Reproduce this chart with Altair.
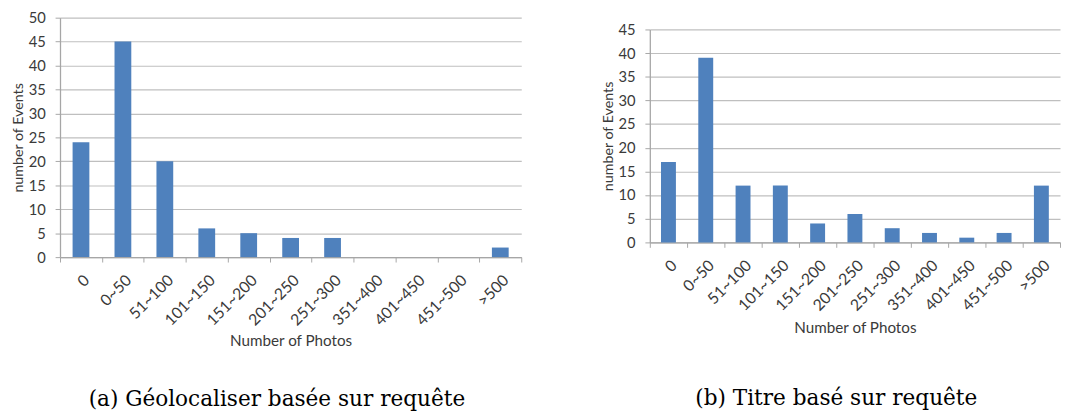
import altair as alt
import pandas as pd

categories = ["0", "0~50", "51~100", "101~150", "151~200", "201~250",
              "251~300", "351~400", "401~450", "451~500", ">500"]
geo_counts = [24, 45, 20, 6, 5, 4, 4, 0, 0, 0, 2]
title_counts = [17, 39, 12, 12, 4, 6, 3, 2, 1, 2, 12]
y_ticks_a = [0, 5, 10, 15, 20, 25, 30, 35, 40, 45, 50]
y_ticks_b = [0, 5, 10, 15, 20, 25, 30, 35, 40, 45]
caption_a = "(a) Géolocaliser basée sur requête"
caption_b = "(b) Titre basé sur requête"
xtitle_a = "Number of  Photos"
xtitle_b = "Number of Photos"
ytitle = "number of Events"

FONT = "Lato"
AXIS_COLOR = "#A6A6A6"
GRID_COLOR = "#BFBFBF"
TEXT_COLOR = "#3A3A3A"
BAR_COLOR = "#4F81BD"


def panel(counts, ymax, yticks, w, h, xtitle, xtitle_pad, caption, cap_offset, cap_dx):
    df = pd.DataFrame({"cat": categories, "n": counts})
    return alt.Chart(df).mark_bar(color=BAR_COLOR, width={"band": 0.4}).encode(
        x=alt.X("cat:N", sort=categories,
                scale=alt.Scale(paddingInner=0, paddingOuter=0),
                axis=alt.Axis(title=xtitle, labelAngle=-45, tickBand="extent",
                              grid=False, tickSize=5, labelPadding=10,
                              labelFontSize=16, titlePadding=xtitle_pad,
                              titleFontSize=15.5)),
        y=alt.Y("n:Q", scale=alt.Scale(domain=[0, ymax], nice=False),
                axis=alt.Axis(values=yticks, title=ytitle, grid=True,
                              tickSize=5, labelPadding=10, titlePadding=3,
                              labelFontSize=15, titleFontSize=14.5)),
    ).properties(
        width=w, height=h,
        title=alt.TitleParams(caption, orient="bottom", font="DejaVu Serif",
                              fontSize=22, fontWeight="normal", color="black",
                              offset=cap_offset, dx=cap_dx),
    )


left = panel(geo_counts, 50, y_ticks_a, 470, 244, xtitle_a, 6, caption_a, 41, -14)
right_chart = panel(title_counts, 45, y_ticks_b, 418, 217, xtitle_b, 8, caption_b, 53, -19)

spacer = alt.Chart(pd.DataFrame({"v": [0]})).mark_point(opacity=0).encode(
    x=alt.value(0), y=alt.value(0)
).properties(width=1, height=5)

right = alt.vconcat(spacer, right_chart, spacing=0)

chart = alt.hconcat(left, right, spacing=79).properties(
    padding={"top": -1, "left": 2, "right": 0, "bottom": 0}
).configure_view(stroke=None).configure_axis(
    labelFont=FONT, titleFont=FONT,
    titleFontWeight="normal", labelColor=TEXT_COLOR, titleColor=TEXT_COLOR,
    domainColor=AXIS_COLOR, tickColor=AXIS_COLOR, gridColor=GRID_COLOR,
    domainWidth=1.3, gridWidth=1.2,
)

chart.save("out.html", embed_options={"renderer": "svg", "actions": False})
